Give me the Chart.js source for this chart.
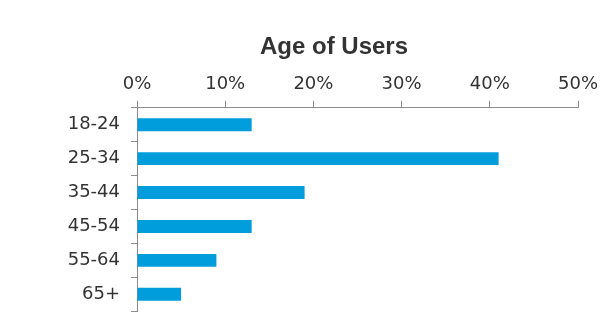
<!DOCTYPE html>
<html>
<head>
<meta charset="utf-8">
<script src="https://cdn.jsdelivr.net/npm/chart.js@4"></script>
<style>
  html, body { margin: 0; padding: 0; background: #fff; }
  #wrap { width: 606px; height: 333px; }
</style>
</head>
<body>
<div id="wrap"><canvas id="ageChart"></canvas></div>
<script>
const ageGroups = ['18-24', '25-34', '35-44', '45-54', '55-64', '65+'];
const userShare = [13, 41, 19, 13, 9, 5];
const xTicks = [0, 10, 20, 30, 40, 50];

const textColor = '#333333';
const axisColor = '#8c8c8c';

// y labels sit left of the axis box (title is shifted right), so don't clip them
const unclipLabels = {
    id: 'unclipLabels',
    afterLayout(chart) {
        chart.scales.y.left = 0;
    }
};

const ctx = document.getElementById('ageChart').getContext('2d');
new Chart(ctx, {
    type: 'bar',
    data: {
        labels: ageGroups,
        datasets: [{
            data: userShare,
            backgroundColor: '#009ddc',
            barPercentage: 0.38,
            categoryPercentage: 1
        }]
    },
    options: {
        indexAxis: 'y',
        responsive: true,
        maintainAspectRatio: false,
        animation: false,
        layout: { padding: { left: 90, right: 28, top: 0, bottom: 20 } },
        scales: {
            x: {
                position: 'top',
                min: xTicks[0],
                max: xTicks[xTicks.length - 1],
                afterBuildTicks: (scale) => { scale.ticks = xTicks.map(v => ({ value: v })); },
                afterFit: (scale) => {
                    scale.height = 46;
                    scale.paddingLeft = 0;
                    scale.paddingRight = 0;
                },
                border: { color: axisColor, width: 1 },
                grid: { drawOnChartArea: false, drawTicks: true, tickLength: 7, color: axisColor },
                ticks: {
                    padding: 6,
                    color: textColor,
                    font: { family: 'DejaVu Sans', size: 18 },
                    callback: (v) => v + '%'
                }
            },
            y: {
                afterFit: (scale) => { scale.width = 47; },
                border: { color: axisColor, width: 1 },
                grid: { drawOnChartArea: false, drawTicks: true, tickLength: 6, color: axisColor, offset: true },
                ticks: {
                    padding: 11,
                    color: textColor,
                    font: { family: 'DejaVu Sans', size: 18 }
                }
            }
        },
        plugins: {
            legend: { display: false },
            tooltip: { enabled: false },
            title: {
                display: true,
                text: 'Age of Users',
                color: textColor,
                font: { family: 'Liberation Sans', size: 24, weight: 'bold' },
                padding: { top: 33, bottom: 0 }
            }
        }
    },
    plugins: [unclipLabels]
});
</script>
</body>
</html>
